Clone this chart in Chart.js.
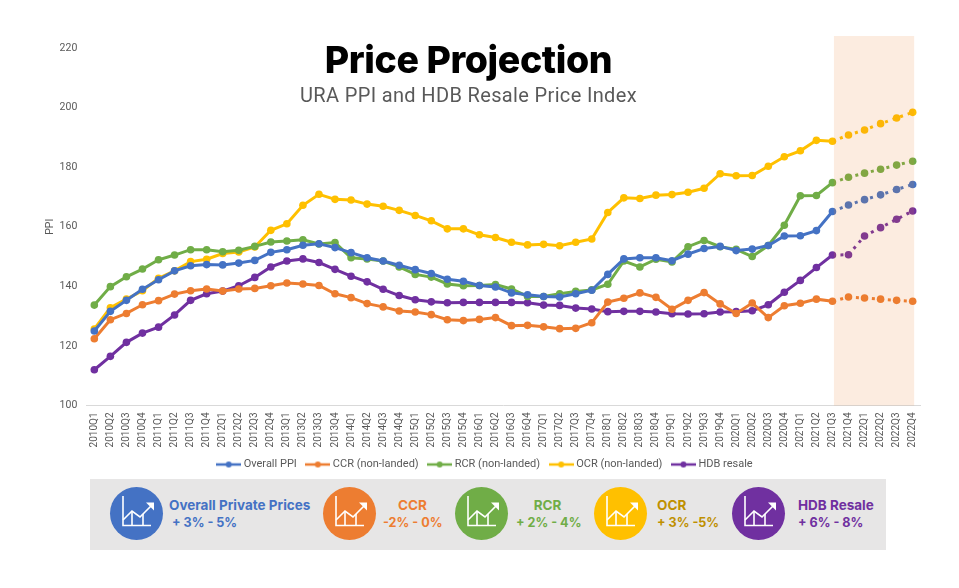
<!DOCTYPE html>
<html>
<head>
<meta charset="utf-8">
<script src="https://cdn.jsdelivr.net/npm/chart.js@4"></script>
<style>
  html, body { margin: 0; padding: 0; background: #fff; }
  #page { position: relative; width: 959px; height: 588px; overflow: hidden; font-family: Inter, Roboto, sans-serif; }
  #chart { position: absolute; left: 0; top: 0; }
  .heading { position: absolute; left: 0; width: 937px; text-align: center; white-space: nowrap; }
  #title { top: 37px; font-size: 37.5px; line-height: 46px; font-weight: 800; color: #000; letter-spacing: -0.4px; }
  #subtitle { top: 82px; font: 400 20px/26px Roboto, sans-serif; color: #595959; letter-spacing: 0.35px; }
  #panel { position: absolute; left: 90px; top: 479px; width: 796px; height: 71px; background: #e7e6e6; }
  .badge { position: absolute; top: 7.5px; width: 53px; height: 53px; border-radius: 50%; }
  .badge svg { position: absolute; left: 0; top: 0; }
  .note { position: absolute; top: 18px; font-size: 12.6px; line-height: 16.5px; font-weight: 700; white-space: nowrap; }
  .note b { font-size: 13.5px; font-weight: 700; }
</style>
</head>
<body>
<div id="page">
  <canvas id="chart" width="959" height="588"></canvas>
  <div class="heading" id="title">Price Projection</div>
  <div class="heading" id="subtitle">URA PPI and HDB Resale Price Index</div>
  <div id="panel"></div>
</div>
<script>
const quarters = [
  '2010Q1','2010Q2','2010Q3','2010Q4','2011Q1','2011Q2','2011Q3','2011Q4','2012Q1','2012Q2','2012Q3','2012Q4','2013Q1',
  '2013Q2','2013Q3','2013Q4','2014Q1','2014Q2','2014Q3','2014Q4','2015Q1','2015Q2','2015Q3','2015Q4','2016Q1','2016Q2',
  '2016Q3','2016Q4','2017Q1','2017Q2','2017Q3','2017Q4','2018Q1','2018Q2','2018Q3','2018Q4','2019Q1','2019Q2','2019Q3',
  '2019Q4','2020Q1','2020Q2','2020Q3','2020Q4','2021Q1','2021Q2','2021Q3','2021Q4','2022Q1','2022Q2','2022Q3','2022Q4'
];
const overallPPI = [
  125, 131.6, 135.3, 139, 142.2, 145.2, 146.9, 147.3, 147.2, 147.8, 148.7, 151.4, 152.3,
  153.8, 154.3, 153, 151.3, 149.6, 148.5, 147.1, 145.6, 144.3, 142.4, 141.7, 140.3, 139.8,
  137.8, 137.2, 136.6, 136.4, 137.5, 138.7, 144, 149.2, 149.6, 149.6, 148.6, 150.8, 152.7,
  153.4, 152, 152.5, 153.7, 156.9, 157, 158.7, 165.1, 167.3, 169.1, 170.7, 172.5, 174.2
];
const ccr = [
  122.4, 128.8, 130.9, 133.8, 135.2, 137.4, 138.5, 139.1, 138.4, 139.1, 139.3, 140.2, 141.1,
  140.8, 140.3, 137.5, 136.2, 134.2, 133.1, 131.7, 131.4, 130.5, 128.8, 128.5, 128.9, 129.5,
  126.8, 126.9, 126.4, 125.8, 125.9, 127.8, 134.7, 136, 137.8, 136.3, 132.3, 135.3, 137.9,
  134.1, 130.9, 134.4, 129.5, 133.5, 134.3, 135.7, 135, 136.4, 136.1, 135.7, 135.3, 135
];
const rcr = [
  133.7, 139.9, 143.2, 145.8, 148.9, 150.5, 152.3, 152.3, 151.6, 152.1, 153.4, 154.9, 155.2,
  155.6, 154.2, 154.7, 149.6, 149.2, 148.5, 146.5, 144, 143.1, 140.8, 140.2, 140.3, 140.6,
  139.1, 136.6, 136.6, 137.5, 138.3, 138.8, 140.7, 148.5, 146.5, 149.1, 148.2, 153.3, 155.4,
  153.3, 152.4, 150, 153.7, 160.5, 170.4, 170.5, 174.8, 176.6, 178, 179.3, 180.7, 182
];
const ocr = [
  125.7, 132.8, 135.7, 138.5, 142.7, 145.2, 148.3, 149.1, 151, 151.5, 153.2, 158.8, 161,
  167.2, 170.9, 169.2, 169, 167.6, 166.9, 165.5, 163.8, 162, 159.3, 159.3, 157.3, 156.4,
  154.8, 153.9, 154.1, 153.6, 154.8, 155.9, 164.8, 169.7, 169.5, 170.6, 170.8, 171.6, 172.9,
  177.8, 177.1, 177.2, 180.3, 183.5, 185.5, 189, 188.7, 190.8, 192.5, 194.6, 196.5, 198.4
];
const hdbResale = [
  112, 116.5, 121.2, 124.3, 126.3, 130.4, 135.3, 137.5, 138.4, 140.2, 143, 146.5, 148.5,
  149.2, 148, 145.7, 143.4, 141.5, 139, 136.9, 135.5, 134.8, 134.5, 134.6, 134.6, 134.6,
  134.6, 134.5, 133.7, 133.6, 132.7, 132.4, 131.5, 131.6, 131.6, 131.4, 130.8, 130.7, 130.8,
  131.4, 131.5, 131.8, 133.8, 138, 142, 146.3, 150.5, 150.6, 156.9, 159.7, 162.5, 165.3
];
const lastActual = 46; // 2021Q3, everything after it is projection

const names = ['Overall PPI', 'CCR (non-landed)', 'RCR (non-landed)', 'OCR (non-landed)', 'HDB resale'];
const colors = ['#4472c4', '#ed7d31', '#70ad47', '#ffc000', '#7030a0'];
const values = [overallPPI, ccr, rcr, ocr, hdbResale];
const textColor = '#595959';

// bottom strip: circle colour, text colour, circle left, text left, lines, align
const notes = [
  { fill: '#4472c4', ink: '#4472c4', badge: 20, text: 79, lines: ['Overall Private Prices', '&nbsp;+ 3% - 5%'] },
  { fill: '#ed7d31', ink: '#ed7d31', badge: 233, text: 293, width: 59, lines: ['CCR', '-2% - 0%'] },
  { fill: '#70ad47', ink: '#70ad47', badge: 365, text: 426, width: 63, lines: ['RCR', '+ 2% - 4%'] },
  { fill: '#ffc000', ink: '#bf9000', badge: 504, text: 567, lines: ['OCR', '+ 3% -5%'] },
  { fill: '#7030a0', ink: '#7030a0', badge: 642, text: 708, lines: ['HDB Resale', '+ 6% - 8%'] }
];

const icon = `<svg width="53" height="53" viewBox="0 0 53 53" fill="none" stroke="#fff" stroke-width="1.6">
  <path d="M13 9V38.5H41"/><path d="M13 33L22 24L30 30L41 19"/><path d="M22 24V38M33 27V38"/>
  <path d="M36 15.5H44V23.5Z" fill="#fff" stroke="none"/></svg>`;
const panel = document.getElementById('panel');
notes.forEach(n => {
  panel.insertAdjacentHTML('beforeend', `<div class="badge" style="left:${n.badge}px;background:${n.fill}">${icon}</div>`);
  const align = n.width ? `width:${n.width}px;text-align:center;` : '';
  panel.insertAdjacentHTML('beforeend', `<div class="note" style="left:${n.text}px;${align}color:${n.ink}"><b>${n.lines[0]}</b><br>${n.lines[1]}</div>`);
});

// legend sample: short line with a dot in the middle
function legendMark(color) {
  const c = document.createElement('canvas');
  c.width = 25;
  c.height = 8;
  const g = c.getContext('2d');
  g.strokeStyle = color;
  g.lineWidth = 2.5;
  g.beginPath();
  g.moveTo(0, 4);
  g.lineTo(25, 4);
  g.stroke();
  g.fillStyle = color;
  g.beginPath();
  g.arc(12.5, 4, 3, 0, Math.PI * 2);
  g.fill();
  return c;
}
const marks = colors.map(legendMark);

// projection band, painted over the lines so the dots in it look washed out
const projectionBand = {
  id: 'projectionBand',
  afterDatasetsDraw(chart) {
    const { ctx, chartArea, scales } = chart;
    const left = scales.x.getPixelForValue(lastActual) + 1.5;
    const right = scales.x.getPixelForValue(quarters.length - 1) + 1.5;
    ctx.save();
    ctx.fillStyle = 'rgba(237, 125, 49, 0.15)';
    ctx.fillRect(left, chartArea.top - 12, right - left, chartArea.bottom - chartArea.top + 12);
    ctx.restore();
  }
};

// legend sits a little right of the canvas centre in the original
const nudgeLegend = {
  id: 'nudgeLegend',
  afterLayout(chart) {
    chart.legend.left += 3.6;
    chart.legend.right += 3.6;
  }
};

new Chart(document.getElementById('chart'), {
  type: 'line',
  data: {
    labels: quarters,
    datasets: names.map((name, i) => ({
      label: name,
      data: values[i],
      borderColor: colors[i],
      backgroundColor: colors[i],
      borderWidth: 3,
      pointRadius: 3.8,
      pointBorderWidth: 0,
      tension: 0,
      segment: {
        borderDash: ctx => (ctx.p0DataIndex >= lastActual ? [3, 5] : undefined)
      }
    }))
  },
  options: {
    responsive: false,
    animation: false,
    layout: { padding: { left: 44, right: 38.3, top: 48, bottom: 108 } },
    plugins: {
      tooltip: { enabled: false },
      legend: {
        position: 'bottom',
        labels: {
          usePointStyle: true,
          pointStyleWidth: 19,
          padding: 11.5,
          color: textColor,
          font: { family: 'Roboto', size: 11 },
          generateLabels(chart) {
            return Chart.defaults.plugins.legend.labels.generateLabels(chart)
              .map(item => ({ ...item, pointStyle: marks[item.datasetIndex] }));
          }
        }
      }
    },
    scales: {
      x: {
        offset: true,
        afterFit(axis) { axis.height = 42; },
        grid: { display: false, drawTicks: false, offset: false },
        border: { color: '#d9d9d9' },
        ticks: {
          autoSkip: false,
          minRotation: 90,
          maxRotation: 90,
          padding: 7,
          color: textColor,
          font: { family: 'Roboto', size: 10 }
        }
      },
      y: {
        min: 100,
        max: 220,
        afterFit(axis) { axis.width = 42.3; },
        grid: { display: false, drawTicks: false },
        border: { display: false },
        title: { display: true, text: 'PPI', color: textColor, padding: 0, font: { family: 'Roboto', size: 10.5 } },
        ticks: {
          stepSize: 20,
          padding: 9,
          color: textColor,
          font: { family: 'Roboto', size: 10.5 }
        }
      }
    }
  },
  plugins: [projectionBand, nudgeLegend]
});
</script>
</body>
</html>
